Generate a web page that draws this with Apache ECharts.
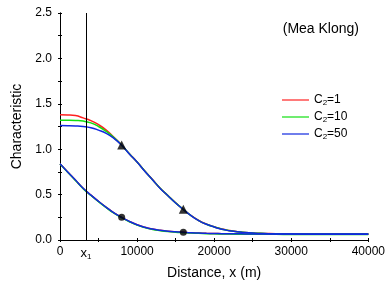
<!DOCTYPE html>
<html>
<head>
<meta charset="utf-8">
<script src="https://cdn.jsdelivr.net/npm/echarts@6/dist/echarts.min.js"></script>
<style>
  html, body { margin: 0; padding: 0; background: #fff; }
  #chart { width: 388px; height: 287px; }
</style>
</head>
<body>
<div id="chart"></div>
<script>
// distance along the river (m)
const distance = [0, 1000, 2000, 3000, 4000, 5000, 6000, 7000, 8000, 9000, 10000,
  11000, 12000, 13000, 14000, 15000, 16000, 17000, 18000, 19000, 20000,
  21000, 22000, 23000, 24000, 25000, 26000, 27000, 28000, 30000, 35000, 40000];

// upper curves
const upperC1 = [1.38, 1.378, 1.37, 1.345, 1.315, 1.27, 1.21, 1.13, 1.046, 0.95, 0.86,
  0.76, 0.665, 0.57, 0.49, 0.41, 0.338, 0.27, 0.215, 0.175, 0.145,
  0.12, 0.104, 0.092, 0.084, 0.078, 0.074, 0.071, 0.069, 0.067, 0.066, 0.066];
const upperC10 = [1.32, 1.319, 1.316, 1.31, 1.29, 1.25, 1.195, 1.128, 1.045, 0.949, 0.859,
  0.759, 0.664, 0.569, 0.489, 0.409, 0.337, 0.269, 0.214, 0.174, 0.144,
  0.119, 0.103, 0.091, 0.083, 0.077, 0.073, 0.07, 0.068, 0.066, 0.065, 0.065];
const upperC50 = [1.26, 1.259, 1.256, 1.25, 1.237, 1.21, 1.175, 1.12, 1.044, 0.948, 0.858,
  0.758, 0.663, 0.568, 0.488, 0.408, 0.336, 0.268, 0.213, 0.173, 0.143,
  0.118, 0.102, 0.09, 0.082, 0.076, 0.072, 0.069, 0.067, 0.065, 0.064, 0.064];

// lower curves
const lowerC1 = [0.84, 0.75, 0.66, 0.57, 0.495, 0.425, 0.36, 0.3, 0.25, 0.205, 0.168,
  0.14, 0.12, 0.107, 0.097, 0.09, 0.085, 0.08, 0.077, 0.074, 0.072,
  0.07, 0.069, 0.068, 0.067, 0.066, 0.066, 0.066, 0.066, 0.065, 0.065, 0.065];
const lowerC10 = [0.836, 0.746, 0.656, 0.566, 0.491, 0.421, 0.356, 0.296, 0.246, 0.201, 0.164,
  0.136, 0.116, 0.103, 0.093, 0.086, 0.081, 0.076, 0.073, 0.07, 0.068,
  0.066, 0.065, 0.064, 0.063, 0.062, 0.062, 0.062, 0.062, 0.061, 0.061, 0.061];
const lowerC50 = [0.84, 0.75, 0.66, 0.57, 0.495, 0.425, 0.36, 0.3, 0.25, 0.205, 0.168,
  0.14, 0.12, 0.107, 0.097, 0.09, 0.085, 0.08, 0.077, 0.074, 0.072,
  0.07, 0.069, 0.068, 0.067, 0.066, 0.066, 0.066, 0.066, 0.065, 0.065, 0.065];

// marked points
const triangleX = [8000, 16000];
const triangleY = [1.046, 0.338];
const circleX = [8000, 16000];
const circleY = [0.25, 0.085];

// x1 position and axis labels
const x1 = 3355;
const xLabelValues = [0, x1, 10000, 20000, 30000, 40000];
const xTickValues = [0, 5000, 10000, 15000, 20000, 25000, 30000, 35000, 40000];
const yTickValues = [0, 0.25, 0.5, 0.75, 1, 1.25, 1.5, 1.75, 2, 2.25, 2.5];

const legendNames = ['C2=1', 'C2=10', 'C2=50'];
const colors = ['#ff2020', '#10e010', '#1028e0'];

const font = 'Arial, "Liberation Sans", sans-serif';

const zip = (xs, ys) => xs.map((x, i) => [x, ys[i]]);

// common line settings
const lineSets = {
  type: 'line',
  smooth: true,
  showSymbol: false,
  symbol: 'none',
  xAxisIndex: 0,
  yAxisIndex: 0,
};

function lineSeries(name, data, color, z) {
  return Object.assign({}, lineSets, {
    name: name,
    data: zip(distance, data),
    z: z,
    lineStyle: { color: color, width: 1.5 },
    itemStyle: { color: color },
  });
}

// small inward ticks on all four sides
const tickSets = { inside: true, length: 2, lineStyle: { color: '#000' } };

const chart = echarts.init(document.getElementById('chart'), null, { renderer: 'canvas' });

const options = {
  animation: false,
  backgroundColor: '#fff',
  grid: { left: 60, right: 18, top: 13, bottom: 47 },
  title: {
    text: '(Mea Klong)',
    right: 24,
    top: 17,
    textStyle: { fontFamily: font, fontSize: 14, fontWeight: 'normal', color: '#000' },
  },
  legend: {
    data: legendNames,
    orient: 'vertical',
    left: 277,
    top: 89,
    icon: 'rect',
    itemWidth: 27,
    itemHeight: 1.2,
    itemGap: 4,
    formatter: name => {
      const parts = name.split('=');
      return 'C{s|2}{t|=' + parts[1] + '}';
    },
    textStyle: {
      fontFamily: font,
      fontSize: 12,
      color: '#000',
      rich: {
        s: { fontFamily: font, fontSize: 8, color: '#000', padding: [6, 0, 0, 0] },
        t: { fontFamily: font, fontSize: 12, color: '#000' },
      },
    },
  },
  xAxis: [
    {
      type: 'value',
      min: 0,
      max: 40000,
      interval: 10000,
      name: 'Distance, x (m)',
      nameLocation: 'middle',
      nameGap: 25,
      nameTextStyle: { fontFamily: font, fontSize: 14, color: '#000' },
      axisLine: { lineStyle: { color: '#000', width: 1 } },
      axisTick: Object.assign({ customValues: xTickValues }, tickSets),
      splitLine: { show: false },
      axisLabel: {
        customValues: xLabelValues,
        margin: 6,
        fontFamily: font,
        fontSize: 12,
        color: '#000',
        formatter: v => (v === x1 ? '{x|x}{s|1}' : String(v)),
        rich: {
          x: { fontFamily: font, fontSize: 13, color: '#000' },
          s: { fontFamily: font, fontSize: 8, color: '#000', padding: [7, 0, 0, 0] },
        },
      },
    },
    {
      type: 'value',
      position: 'top',
      min: 0,
      max: 40000,
      interval: 10000,
      axisLine: { lineStyle: { color: '#000', width: 1 } },
      axisTick: Object.assign({ customValues: xTickValues }, tickSets),
      axisLabel: { show: false },
      splitLine: { show: false },
    },
  ],
  yAxis: [
    {
      type: 'value',
      min: 0,
      max: 2.5,
      interval: 0.5,
      name: 'Characteristic',
      nameLocation: 'middle',
      nameGap: 36,
      nameTextStyle: { fontFamily: font, fontSize: 14, color: '#000' },
      axisLine: { show: true, lineStyle: { color: '#000', width: 1 } },
      axisTick: Object.assign({ customValues: yTickValues }, tickSets),
      splitLine: { show: false },
      axisLabel: {
        margin: 8,
        fontFamily: font,
        fontSize: 12,
        color: '#000',
        formatter: v => v.toFixed(1),
      },
    },
    {
      type: 'value',
      position: 'right',
      min: 0,
      max: 2.5,
      interval: 0.5,
      axisLine: { show: true, lineStyle: { color: '#000', width: 1 } },
      axisTick: Object.assign({ customValues: yTickValues }, tickSets),
      axisLabel: { show: false },
      splitLine: { show: false },
    },
  ],
  series: [
    lineSeries('C2=1', upperC1, colors[0], 2),
    lineSeries('C2=10', upperC10, colors[1], 3),
    lineSeries('C2=50', upperC50, colors[2], 4),
    lineSeries('C2=1', lowerC1, colors[0], 2),
    lineSeries('C2=10', lowerC10, colors[1], 3),
    lineSeries('C2=50', lowerC50, colors[2], 4),
    {
      // x1 vertical line
      type: 'line',
      data: [],
      markLine: {
        silent: true,
        symbol: 'none',
        label: { show: false },
        lineStyle: { color: '#000', width: 1, type: 'solid' },
        data: [{ xAxis: x1 }],
      },
    },
    {
      type: 'scatter',
      symbol: 'triangle',
      symbolSize: 9,
      z: 6,
      itemStyle: { color: '#000' },
      data: zip(triangleX, triangleY),
    },
    {
      type: 'scatter',
      symbol: 'circle',
      symbolSize: 7,
      z: 6,
      itemStyle: { color: '#000' },
      data: zip(circleX, circleY),
    },
  ],
};

chart.setOption(options);
</script>
</body>
</html>
